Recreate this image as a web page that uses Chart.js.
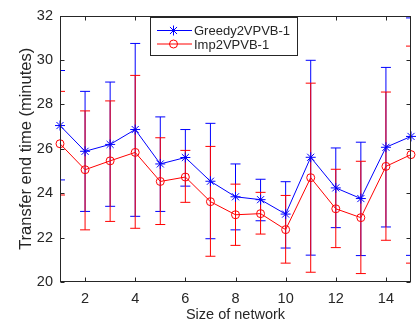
<!DOCTYPE html>
<html>
<head>
<meta charset="utf-8">
<script src="https://cdn.jsdelivr.net/npm/chart.js@4/dist/chart.umd.min.js"></script>
<style>
  body { margin: 0; background: #fff; }
  canvas { display: block; }
</style>
</head>
<body>
<canvas id="myChart" width="419" height="326"></canvas>
<script>
const sizes = [1, 2, 3, 4, 5, 6, 7, 8, 9, 10, 11, 12, 13, 14, 15];
const xTicks = [2, 4, 6, 8, 10, 12, 14];
const yTicks = [20, 22, 24, 26, 28, 30, 32];

const greedyMean  = [27.05, 25.89, 26.20, 26.87, 25.32, 25.61, 24.54, 23.84, 23.71, 23.06, 25.62, 24.24, 23.76, 26.07, 26.56];
const greedyUpper = [29.53, 28.59, 29.01, 30.75, 27.44, 26.87, 27.15, 25.32, 24.63, 24.52, 29.99, 26.04, 26.30, 29.67, 31.90];
const greedyLower = [24.60, 23.18, 23.41, 22.96, 23.18, 24.32, 21.95, 22.35, 22.76, 21.53, 21.21, 22.45, 21.19, 22.48, 21.20];

const impMean  = [26.23, 25.06, 25.46, 25.84, 24.53, 24.73, 23.62, 23.03, 23.08, 22.36, 24.70, 23.30, 22.90, 25.21, 25.74];
const impUpper = [28.59, 27.71, 28.16, 29.31, 26.50, 25.93, 26.11, 24.41, 24.04, 23.90, 28.96, 25.08, 25.44, 28.56, 30.63];
const impLower = [23.92, 22.35, 22.73, 22.42, 22.59, 23.59, 21.16, 21.65, 22.16, 20.85, 20.44, 21.55, 20.38, 21.88, 20.85];

const axisColor = '#262626';
const family = '"Liberation Sans", Arial, sans-serif';
const tickFont = { family: family, size: 14.5 };
const legendFont = { family: family, size: 13 };

const toPoints = (ys) => sizes.map((x, i) => ({ x: x, y: ys[i] }));

// error bars, axes box with inward ticks, and in-plot legend
const extras = {
    id: 'extras',
    beforeDatasetsDraw(chart) {
        const ctx = chart.ctx;
        const xs = chart.scales.x, ys = chart.scales.y;
        const a = chart.chartArea;
        ctx.save();
        ctx.beginPath();
        ctx.rect(a.left, a.top, a.right - a.left, a.bottom - a.top);
        ctx.clip();
        chart.data.datasets.forEach(ds => {
            ctx.strokeStyle = ds.borderColor;
            ctx.lineWidth = 1;
            ds.data.forEach((p, i) => {
                const px = xs.getPixelForValue(p.x);
                const top = ys.getPixelForValue(ds.upper[i]);
                const bot = ys.getPixelForValue(ds.lower[i]);
                ctx.beginPath();
                ctx.moveTo(px, top); ctx.lineTo(px, bot);
                ctx.moveTo(px - 5, top); ctx.lineTo(px + 5, top);
                ctx.moveTo(px - 5, bot); ctx.lineTo(px + 5, bot);
                ctx.stroke();
            });
        });
        ctx.restore();
    },
    afterDraw(chart) {
        const ctx = chart.ctx;
        const xs = chart.scales.x, ys = chart.scales.y;
        const a = chart.chartArea;
        ctx.save();
        ctx.strokeStyle = axisColor;
        ctx.lineWidth = 1;
        const l = Math.round(a.left) + 0.5, r = Math.round(a.right) - 0.5;
        const t = Math.round(a.top) + 0.5, b = Math.round(a.bottom) - 0.5;
        ctx.strokeRect(l, t, r - l, b - t);
        ctx.beginPath();
        xTicks.forEach(v => {
            const px = Math.round(xs.getPixelForValue(v)) + 0.5;
            ctx.moveTo(px, b); ctx.lineTo(px, b - 4);
            ctx.moveTo(px, t); ctx.lineTo(px, t + 4);
        });
        yTicks.forEach(v => {
            const py = Math.round(ys.getPixelForValue(v)) + 0.5;
            ctx.moveTo(l, py); ctx.lineTo(l + 4, py);
            ctx.moveTo(r, py); ctx.lineTo(r - 4, py);
        });
        ctx.stroke();

        // legend
        const bx = 150.5, by = 17.5, bw = 147, bh = 38;
        ctx.fillStyle = '#fff';
        ctx.fillRect(bx, by, bw, bh);
        ctx.strokeRect(bx, by, bw, bh);
        ctx.font = legendFont.size + 'px ' + legendFont.family;
        ctx.textBaseline = 'middle';
        chart.data.datasets.forEach((ds, i) => {
            const cy = 30.5 + i * 13.5;
            ctx.strokeStyle = ds.borderColor;
            ctx.fillStyle = 'rgba(0,0,0,0)';
            ctx.beginPath();
            ctx.moveTo(157, cy); ctx.lineTo(192, cy);
            ctx.stroke();
            Chart.helpers.drawPoint(ctx, {
                pointStyle: ds.pointStyle,
                radius: ds.pointRadius,
                borderWidth: 1
            }, 173.5, cy);
            ctx.fillStyle = axisColor;
            ctx.fillText(ds.label, 194, cy + 1);
        });
        ctx.restore();
    }
};

new Chart(document.getElementById('myChart').getContext('2d'), {
    type: 'line',
    data: {
        datasets: [{
            label: 'Greedy2VPVB-1',
            data: toPoints(greedyMean),
            upper: greedyUpper,
            lower: greedyLower,
            borderColor: '#0000ff',
            backgroundColor: 'rgba(0,0,0,0)',
            pointBorderColor: '#0000ff',
            pointBackgroundColor: 'rgba(0,0,0,0)',
            pointStyle: 'star',
            pointRadius: 5,
            borderWidth: 1,
            pointBorderWidth: 1
        }, {
            label: 'Imp2VPVB-1',
            data: toPoints(impMean),
            upper: impUpper,
            lower: impLower,
            borderColor: '#ff0000',
            backgroundColor: 'rgba(0,0,0,0)',
            pointBorderColor: '#ff0000',
            pointBackgroundColor: 'rgba(0,0,0,0)',
            pointStyle: 'circle',
            pointRadius: 4,
            borderWidth: 1,
            pointBorderWidth: 1
        }]
    },
    options: {
        responsive: false,
        animation: false,
        clip: false,
        layout: { padding: { top: 11, right: 8, left: 0, bottom: 0 } },
        plugins: { legend: { display: false }, tooltip: { enabled: false } },
        elements: { line: { tension: 0 } },
        scales: {
            x: {
                type: 'linear',
                min: 1,
                max: 15,
                afterBuildTicks: (s) => { s.ticks = xTicks.map(v => ({ value: v })); },
                afterFit: (s) => { s.height = 44; },
                grid: { display: false, drawTicks: false },
                border: { display: false },
                ticks: { color: axisColor, font: tickFont, padding: 8.5, maxRotation: 0 },
                title: { display: true, text: 'Size of network', color: axisColor, font: tickFont, padding: { top: 0, bottom: 2 } }
            },
            y: {
                min: 20,
                max: 32,
                afterBuildTicks: (s) => { s.ticks = yTicks.map(v => ({ value: v })); },
                afterFit: (s) => { s.width = 60; },
                grid: { display: false, drawTicks: false },
                border: { display: false },
                ticks: { color: axisColor, font: tickFont, padding: 7 },
                title: { display: true, text: 'Transfer end time (minutes)', color: axisColor, font: { family: family, size: 16.5 }, padding: { top: 17, bottom: 0 } }
            }
        }
    },
    plugins: [extras]
});
</script>
</body>
</html>
